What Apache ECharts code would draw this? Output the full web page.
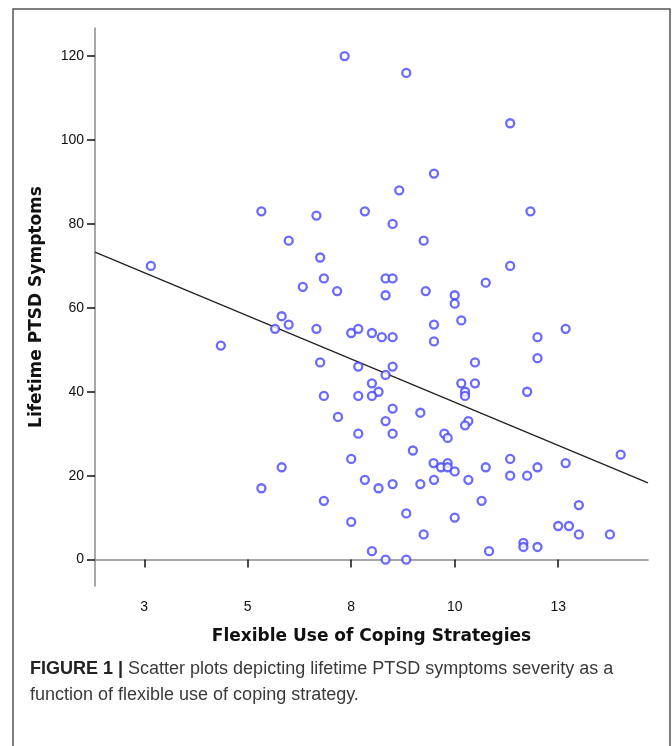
<!DOCTYPE html>
<html>
<head>
<meta charset="utf-8">
<script src="https://cdn.jsdelivr.net/npm/echarts@6/dist/echarts.min.js"></script>
<style>
html,body{margin:0;padding:0;background:#fff;}
#chart{width:672px;height:746px;}
</style>
</head>
<body>
<div id="chart"></div>
<script>
// Flexible use of coping strategies (x) vs lifetime PTSD symptoms (y)
const copingScores = [
  7.34, 8.83, 11.34, 9.50, 8.66, 5.33, 6.66, 7.83, 11.83, 8.50,
  5.99, 9.25, 6.75, 2.66, 11.34, 6.84, 8.33, 8.50, 10.75, 6.33,
  7.16, 9.30, 8.33, 10.00, 10.00, 5.82, 10.16, 5.99, 9.50, 5.66,
  6.66, 12.68, 7.50, 7.67, 8.00, 8.24, 8.50, 9.50, 12.00, 12.00,
  4.35, 6.75, 7.67, 8.50, 10.49, 8.33, 8.00, 10.16, 10.49, 8.16,
  10.25, 11.75, 6.84, 7.67, 8.00, 10.25, 8.50, 9.17, 7.18, 8.33,
  10.33, 10.25, 7.67, 8.50, 9.75, 9.83, 8.99, 14.01, 7.50, 11.34,
  9.49, 9.83, 12.68, 5.82, 9.67, 9.83, 10.75, 12.00, 10.00, 7.83,
  9.50, 10.33, 11.34, 11.75, 8.50, 9.17, 5.33, 8.16, 6.84, 10.65,
  13.00, 8.83, 10.00, 7.50, 12.50, 12.76, 9.25, 13.00, 13.75, 11.66,
  11.66, 12.00, 8.00, 10.83, 8.33, 8.83
];
const ptsdSymptoms = [
  120, 116, 104, 92, 88, 83, 82, 83, 83, 80,
  76, 76, 72, 70, 70, 67, 67, 67, 66, 65,
  64, 64, 63, 63, 61, 58, 57, 56, 56, 55,
  55, 55, 54, 55, 54, 53, 53, 52, 53, 48,
  51, 47, 46, 46, 47, 44, 42, 42, 42, 40,
  40, 40, 39, 39, 39, 39, 36, 35, 34, 33,
  33, 32, 30, 30, 30, 29, 26, 25, 24, 24,
  23, 23, 23, 22, 22, 22, 22, 22, 21, 19,
  19, 19, 20, 20, 18, 18, 17, 17, 14, 14,
  13, 11, 10, 9, 8, 8, 6, 6, 6, 4,
  3, 3, 2, 2, 0, 0
];
// fitted line end points
const fitX = [1.31, 14.67];
const fitY = [73.3, 18.3];
// axis ticks
const xTickValues = [2.5, 5, 7.5, 10, 12.5];
const xTickLabels = ['3', '5', '8', '10', '13'];
const yTickValues = [0, 20, 40, 60, 80, 100, 120];
const yTickLabels = ['0', '20', '40', '60', '80', '100', '120'];

const points = copingScores.map((x, i) => [x, ptsdSymptoms[i]]);
const fitLine = fitX.map((x, i) => [x, fitY[i]]);

const chart = echarts.init(document.getElementById('chart'), null, {renderer: 'canvas'});
const labelFont = {fontFamily: 'Liberation Sans, Arial, sans-serif', fontSize: 14, color: '#111'};
const titleFont = {fontFamily: 'DejaVu Sans, Verdana, sans-serif', fontWeight: 'bold', fontSize: 17, color: '#111'};
const capFont = 'Liberation Sans, Arial, sans-serif';
chart.setOption({
  animation: false,
  backgroundColor: '#fff',
  grid: {left: 95, right: 24, top: 28, bottom: 160, containLabel: false},
  xAxis: {
    type: 'value', min: 1.31, max: 14.67,
    name: 'Flexible Use of Coping Strategies', nameLocation: 'middle', nameGap: 42,
    nameTextStyle: titleFont,
    axisLine: {show: true, lineStyle: {color: '#8a8a8a', width: 1.5}},
    axisTick: {show: true, inside: false, length: 8, customValues: xTickValues, lineStyle: {color: '#111', width: 1.5}},
    axisLabel: Object.assign({margin: 14, customValues: xTickValues,
      formatter: v => xTickLabels[xTickValues.indexOf(v)]}, labelFont),
    splitLine: {show: false}
  },
  yAxis: {
    type: 'value', min: -6.3, max: 126.7,
    name: 'Lifetime PTSD Symptoms', nameLocation: 'middle', nameGap: 50,
    nameTextStyle: titleFont,
    axisLine: {show: true, lineStyle: {color: '#8a8a8a', width: 1.5}},
    axisTick: {show: true, inside: false, length: 8, customValues: yTickValues, lineStyle: {color: '#111', width: 1.5}},
    axisLabel: Object.assign({margin: 11, customValues: yTickValues,
      formatter: v => yTickLabels[yTickValues.indexOf(v)]}, labelFont),
    splitLine: {show: false}
  },
  series: [
    {
      type: 'scatter', data: points, symbol: 'circle', symbolSize: 8,
      itemStyle: {color: '#fff', borderColor: '#4545ff', borderWidth: 2.3},
      z: 3
    },
    {
      type: 'line', data: fitLine, showSymbol: false, symbol: 'none',
      lineStyle: {color: '#222', width: 1.3}, z: 2
    }
  ],
  graphic: [
    {type: 'rect', shape: {x: 13, y: 9, width: 657, height: 760},
      style: {fill: 'none', stroke: '#555', lineWidth: 1.5}, silent: true},
    {type: 'text', left: 30, top: 660,
      style: {text: '{b|FIGURE 1 |} Scatter plots depicting lifetime PTSD symptoms severity as a',
        fontFamily: capFont, fontSize: 18, fill: '#3a3a3a',
        rich: {b: {fontFamily: capFont, fontSize: 18, fontWeight: 'bold', fill: '#222', color: '#222'}}}},
    {type: 'text', left: 30, top: 686,
      style: {text: 'function of flexible use of coping strategy.',
        fontFamily: capFont, fontSize: 18, fill: '#3a3a3a'}}
  ]
});
</script>
</body>
</html>
